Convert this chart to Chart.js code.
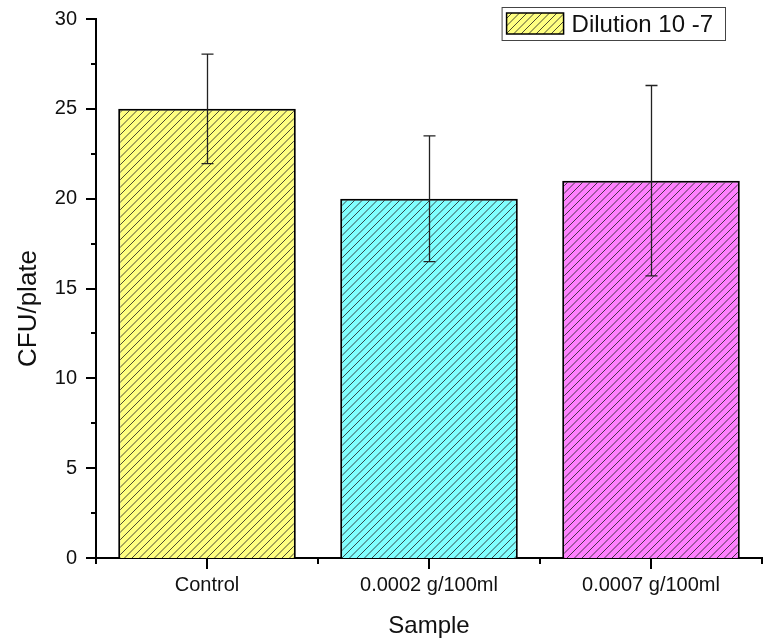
<!DOCTYPE html>
<html>
<head>
<meta charset="utf-8">
<script src="https://cdn.jsdelivr.net/npm/chart.js@4.4.0/dist/chart.umd.min.js"></script>
<style>
  html, body { margin: 0; padding: 0; background: #fff; }
</style>
</head>
<body>
<canvas id="barChart" width="766" height="638"></canvas>
<script>
var categories = ['Control', '0.0002 g/100ml', '0.0007 g/100ml'];
var cfuValues = [25, 20, 21];
var cfuErrors = [3.05, 3.5, 5.3];
var barColors = ['#ffff80', '#80ffff', '#ff80ff'];
var seriesLabel = 'Dilution 10 -7';
var yTitle = 'CFU/plate';
var yTicks = [0, 5, 10, 15, 20, 25, 30];

var FONT = "'Liberation Sans', Arial, sans-serif";
var canvas = document.getElementById('barChart');
var ctx0 = canvas.getContext('2d');

/* rayado diagonal tipo Origin */
function hatch(color) {
  var c = document.createElement('canvas');
  c.width = 15; c.height = 15;
  var g = c.getContext('2d');
  g.fillStyle = color;
  g.fillRect(0, 0, 15, 15);
  g.strokeStyle = 'rgba(30,30,30,0.8)';
  g.lineWidth = 1;
  g.beginPath();
  for (var k = 0; k <= 30; k += 7.5) {
    g.moveTo(k + 1, -1);
    g.lineTo(-1, k + 1);
  }
  g.stroke();
  return ctx0.createPattern(c, 'repeat');
}
var barPatterns = barColors.map(hatch);

/* ticks mayores y menores */
var axisTicks = {
  id: 'axisTicks',
  afterDraw: function(chart) {
    var ctx = chart.ctx, x = chart.scales.x, y = chart.scales.y;
    ctx.save();
    ctx.strokeStyle = '#000';
    ctx.lineWidth = 2;
    y.ticks.forEach(function(t) {
      var py = Math.round(y.getPixelForValue(t.value));
      var len = yTicks.indexOf(t.value) >= 0 ? 10 : 5;
      ctx.beginPath();
      ctx.moveTo(y.right - len, py);
      ctx.lineTo(y.right, py);
      ctx.stroke();
    });
    for (var i = 0; i <= categories.length; i++) {
      var pb = Math.round(x.getPixelForValue(i - 0.5));
      ctx.beginPath();
      ctx.moveTo(pb, x.top);
      ctx.lineTo(pb, x.top + 6);
      ctx.stroke();
      if (i < categories.length) {
        var pc = Math.round(x.getPixelForValue(i));
        ctx.beginPath();
        ctx.moveTo(pc, x.top);
        ctx.lineTo(pc, x.top + 11);
        ctx.stroke();
      }
    }
    // título del eje Y, algo por debajo del centro como en el original
    ctx.font = '26px ' + FONT;
    ctx.fillStyle = '#111';
    ctx.textAlign = 'center';
    ctx.textBaseline = 'middle';
    ctx.translate(29, (y.top + y.bottom) / 2 + 20);
    ctx.rotate(-Math.PI / 2);
    ctx.fillText(yTitle, 0, 0);
    ctx.restore();
  }
};

/* barras de error */
var errorBars = {
  id: 'errorBars',
  afterDatasetsDraw: function(chart) {
    var ctx = chart.ctx, y = chart.scales.y;
    var meta = chart.getDatasetMeta(0);
    ctx.save();
    ctx.strokeStyle = '#222';
    ctx.lineWidth = 1.3;
    meta.data.forEach(function(bar, i) {
      var cx = Math.round(bar.x) + 0.5;
      var hi = y.getPixelForValue(cfuValues[i] + cfuErrors[i]);
      var lo = y.getPixelForValue(cfuValues[i] - cfuErrors[i]);
      ctx.beginPath();
      ctx.moveTo(cx, hi); ctx.lineTo(cx, lo);
      ctx.moveTo(cx - 6, hi); ctx.lineTo(cx + 6, hi);
      ctx.moveTo(cx - 6, lo); ctx.lineTo(cx + 6, lo);
      ctx.stroke();
    });
    ctx.restore();
  }
};

/* leyenda dentro del área */
var boxLegend = {
  id: 'boxLegend',
  afterDraw: function(chart) {
    var ctx = chart.ctx, area = chart.chartArea;
    ctx.save();
    ctx.font = '24px ' + FONT;
    var tw = ctx.measureText(seriesLabel).width;
    var w = 5 + 57 + 8 + tw + 12, h = 33;
    var bx = area.right - 37 - w, by = area.top - 12;
    ctx.fillStyle = '#fff';
    ctx.fillRect(bx, by, w, h);
    ctx.strokeStyle = '#444';
    ctx.lineWidth = 1;
    ctx.strokeRect(bx + 0.5, by + 0.5, w, h);
    ctx.fillStyle = barPatterns[0];
    ctx.fillRect(bx + 5, by + 6, 57, 21);
    ctx.strokeStyle = '#000';
    ctx.lineWidth = 1.5;
    ctx.strokeRect(bx + 5, by + 6, 57, 21);
    ctx.fillStyle = '#111';
    ctx.textBaseline = 'alphabetic';
    ctx.fillText(seriesLabel, bx + 70, by + 25);
    ctx.restore();
  }
};

var barChart = new Chart(canvas, {
  type: 'bar',
  data: {
    labels: categories,
    datasets: [{
      label: seriesLabel,
      data: cfuValues,
      backgroundColor: barPatterns,
      borderColor: '#000',
      borderWidth: 2,
      barPercentage: 0.8,
      categoryPercentage: 1.0
    }]
  },
  options: {
    responsive: false,
    animation: false,
    layout: { padding: { left: 0, right: 4, top: 19, bottom: 0 } },
    plugins: {
      legend: { display: false },
      tooltip: { enabled: false }
    },
    scales: {
      x: {
        grid: { display: false },
        border: { display: true, color: '#000', width: 2 },
        ticks: { color: '#111', padding: 7, font: { family: FONT, size: 20 } },
        title: {
          display: true, text: 'Sample', color: '#111',
          font: { family: FONT, size: 24, lineHeight: 1 },
          padding: { top: 0, bottom: 0 }
        },
        afterFit: function(s) { s.height = 80; }
      },
      y: {
        min: 0,
        max: 30,
        grid: { display: false },
        border: { display: true, color: '#000', width: 2 },
        ticks: {
          stepSize: 2.5,
          autoSkip: false,
          padding: 11,
          color: '#111',
          font: { family: FONT, size: 20 },
          callback: function(v) { return yTicks.indexOf(v) >= 0 ? v : ''; }
        },
        afterFit: function(s) {
          s.width = 96;
          s.paddingTop = 0;
          s.paddingBottom = 0;
        }
      }
    }
  },
  plugins: [axisTicks, errorBars, boxLegend]
});
</script>
</body>
</html>
